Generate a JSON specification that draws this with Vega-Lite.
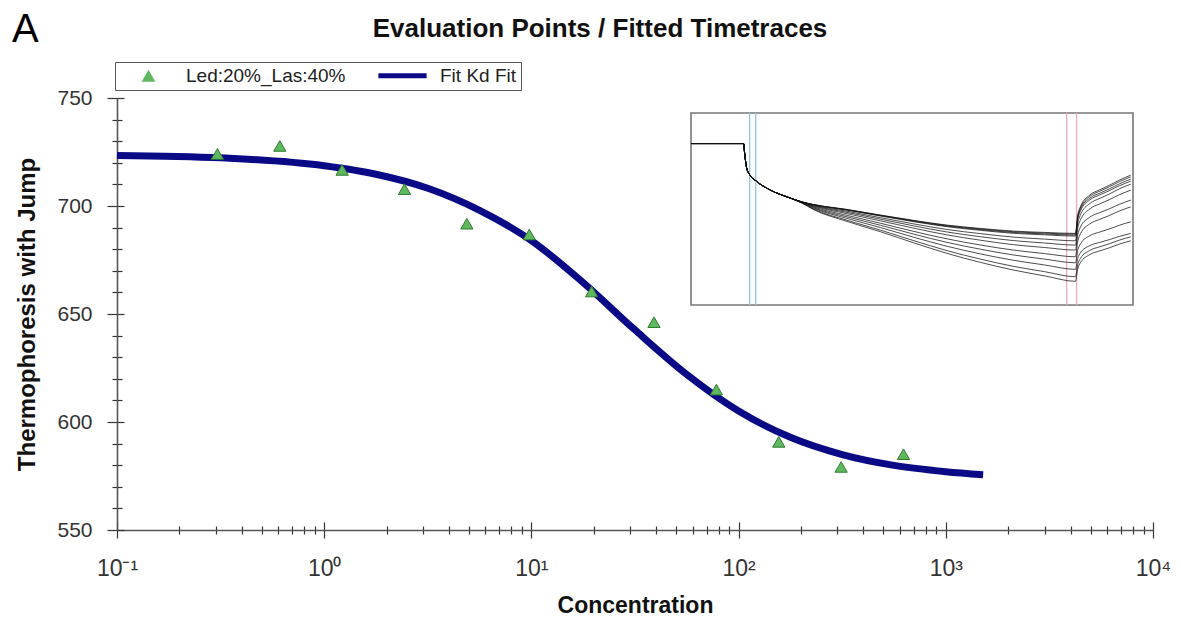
{
  "$schema": "https://vega.github.io/schema/vega-lite/v6.json",
  "width": 1036,
  "height": 432,
  "autosize": "none",
  "padding": {"left": 117, "top": 98, "right": 28, "bottom": 94},
  "background": "white",
  "title": {
    "text": "Evaluation Points / Fitted Timetraces",
    "font": "Liberation Sans",
    "fontSize": 26,
    "fontWeight": "bold",
    "color": "#111111",
    "anchor": "middle",
    "dx": -35,
    "offset": -32
  },
  "config": {
    "view": {"stroke": null},
    "font": "Liberation Sans",
    "axis": {
      "grid": false,
      "labelFont": "Liberation Sans",
      "labelFontSize": 21,
      "labelColor": "#333333",
      "labelFlush": false,
      "tickColor": "#333333",
      "tickWidth": 1.2,
      "domainColor": "#555555",
      "domainWidth": 1.6,
      "titleFont": "Liberation Sans",
      "titleFontSize": 23,
      "titleFontWeight": "bold",
      "titleColor": "#111111"
    },
    "legend": {
      "labelFont": "Liberation Sans",
      "labelFontSize": 19,
      "labelColor": "#222222",
      "labelLimit": 400
    }
  },
  "layer": [
    {
      "layer": [
        {
          "data": {
            "values": [
              {"conc": 0.1, "fit": 723.4},
              {"conc": 0.316, "fit": 722.3},
              {"conc": 1, "fit": 718.6},
              {"conc": 1.778, "fit": 714.7},
              {"conc": 3.162, "fit": 708.2},
              {"conc": 5.623, "fit": 698.0},
              {"conc": 10, "fit": 684.0},
              {"conc": 17.78, "fit": 664.5},
              {"conc": 31.62, "fit": 642.6},
              {"conc": 56.23, "fit": 622.0},
              {"conc": 100, "fit": 605.1},
              {"conc": 177.8, "fit": 592.9},
              {"conc": 316.2, "fit": 584.9},
              {"conc": 562.3, "fit": 579.9},
              {"conc": 1000, "fit": 577.0},
              {"conc": 1514, "fit": 575.6}
            ]
          },
          "mark": {"type": "line", "color": "#0a0a87", "strokeWidth": 7, "interpolate": "monotone"},
          "encoding": {
            "x": {
              "field": "conc", "type": "quantitative",
              "scale": {"type": "log", "domain": [0.1, 10000], "nice": false},
              "axis": {
                "orient": "bottom",
                "values": [0.1, 1, 10, 100, 1000, 10000],
                "offset": -8,
                "tickSize": 16,
                "domain": false,
                "labelPadding": 19,
                "labelFontSize": 23,
                "labelExpr": "datum.value < 0.5 ? '10⁻¹' : datum.value < 5 ? '10⁰' : datum.value < 50 ? '10¹' : datum.value < 500 ? '10²' : datum.value < 5000 ? '10³' : '10⁴'",
                "title": "Concentration",
                "titlePadding": 14
              }
            },
            "y": {
              "field": "fit", "type": "quantitative",
              "scale": {"domain": [550, 750], "zero": false, "nice": false},
              "axis": {
                "orient": "left",
                "values": [550, 600, 650, 700, 750],
                "offset": -7,
                "tickSize": 17,
                "domain": false,
                "labelPadding": 15,
                "title": "Thermophoresis with Jump",
                "titleFontSize": 24,
                "titlePadding": 17
              }
            }
          }
        },
        {
          "data": {
            "values": [
              {"conc": 0.30517578125, "value": 724.1, "series": "Led:20%_Las:40%"},
              {"conc": 0.6103515625, "value": 727.8, "series": "Led:20%_Las:40%"},
              {"conc": 1.220703125, "value": 716.7, "series": "Led:20%_Las:40%"},
              {"conc": 2.44140625, "value": 707.8, "series": "Led:20%_Las:40%"},
              {"conc": 4.8828125, "value": 691.8, "series": "Led:20%_Las:40%"},
              {"conc": 9.765625, "value": 686.8, "series": "Led:20%_Las:40%"},
              {"conc": 19.53125, "value": 660.4, "series": "Led:20%_Las:40%"},
              {"conc": 39.0625, "value": 646.2, "series": "Led:20%_Las:40%"},
              {"conc": 78.125, "value": 615.0, "series": "Led:20%_Las:40%"},
              {"conc": 156.25, "value": 590.8, "series": "Led:20%_Las:40%"},
              {"conc": 312.5, "value": 579.2, "series": "Led:20%_Las:40%"},
              {"conc": 625, "value": 585.1, "series": "Led:20%_Las:40%"}
            ]
          },
          "mark": {"type": "point", "filled": true, "size": 150, "stroke": "#2f7d2f", "strokeWidth": 1, "opacity": 1},
          "encoding": {
            "x": {
              "field": "conc", "type": "quantitative",
              "axis": {
                "orient": "bottom",
                "values": [0.2,0.3,0.4,0.5,0.6,0.7,0.8,0.9,2,3,4,5,6,7,8,9,20,30,40,50,60,70,80,90,200,300,400,500,600,700,800,900,2000,3000,4000,5000,6000,7000,8000,9000],
                "offset": -4,
                "tickSize": 8,
                "domain": false,
                "labels": false,
                "title": null
              }
            },
            "y": {
              "field": "value", "type": "quantitative",
              "axis": {
                "orient": "left",
                "values": [560,570,580,590,610,620,630,640,660,670,680,690,710,720,730,740],
                "offset": -5,
                "tickSize": 10,
                "domain": false,
                "labels": false,
                "title": null
              }
            },
            "color": {
              "field": "series", "type": "nominal",
              "scale": {"domain": ["Led:20%_Las:40%", "Fit Kd Fit"], "range": ["#5fb85f", "#0a0a87"]},
              "legend": {
                "title": null,
                "orient": "none",
                "legendX": -2,
                "legendY": -36,
                "direction": "horizontal",
                "strokeColor": "#555555",
                "fillColor": "white",
                "padding": 4,
                "symbolSize": 190,
                "symbolOffset": 20,
                "symbolStrokeWidth": 0,
                "labelOffset": 28,
                "columnPadding": 27
              }
            },
            "shape": {
              "field": "series", "type": "nominal",
              "scale": {"domain": ["Led:20%_Las:40%", "Fit Kd Fit"], "range": ["triangle-up", "M-3.5,-0.36H3.5V0.36H-3.5Z"]},
              "legend": {
                "title": null,
                "orient": "none",
                "legendX": -2,
                "legendY": -36,
                "direction": "horizontal",
                "strokeColor": "#555555",
                "fillColor": "white",
                "padding": 4,
                "symbolSize": 190,
                "symbolOffset": 20,
                "symbolStrokeWidth": 0,
                "labelOffset": 28,
                "columnPadding": 27
              }
            }
          }
        },
        {
          "data": {"values": [{"label": "A", "conc": 0.0311, "value": 775.9}]},
          "mark": {"type": "text", "fontSize": 40, "font": "Liberation Sans", "align": "left", "baseline": "alphabetic", "color": "#000000"},
          "encoding": {
            "text": {"field": "label"},
            "x": {
              "field": "conc", "type": "quantitative",
              "axis": {"orient": "bottom", "domain": true, "ticks": false, "labels": false, "title": null}
            },
            "y": {
              "field": "value", "type": "quantitative",
              "axis": {"orient": "left", "domain": true, "ticks": false, "labels": false, "title": null}
            }
          }
        }
      ],
      "resolve": {"axis": {"x": "independent", "y": "independent"}}
    },
    {
      "layer": [
        {
          "data": {"values": [{"t0": -4.75, "t1": 35.2, "f0": 838.3, "f1": 1030.6}]},
          "mark": {"type": "rect", "fill": "white", "stroke": "#777777", "strokeWidth": 1.6},
          "encoding": {
            "x": {"field": "t0", "type": "quantitative", "scale": {"domain": [-4.75, 35.2], "range": [574, 1016], "nice": false, "zero": false}, "axis": null},
            "x2": {"field": "t1"},
            "y": {"field": "f0", "type": "quantitative", "scale": {"domain": [838.3, 1030.6], "range": [207, 15], "nice": false, "zero": false}, "axis": null},
            "y2": {"field": "f1"}
          }
        },
        {
          "data": {"values": [{"t": 0.55, "f0": 838.3, "f1": 1030.6}, {"t": 1.1, "f0": 838.3, "f1": 1030.6}]},
          "mark": {"type": "rule", "color": "#8cc6de", "strokeWidth": 1.3},
          "encoding": {
            "x": {"field": "t", "type": "quantitative", "axis": null},
            "y": {"field": "f0", "type": "quantitative", "axis": null},
            "y2": {"field": "f1"}
          }
        },
        {
          "data": {"values": [{"t": 29.2, "f0": 838.3, "f1": 1030.6}, {"t": 30.1, "f0": 838.3, "f1": 1030.6}]},
          "mark": {"type": "rule", "color": "#f2a9b5", "strokeWidth": 1.3},
          "encoding": {
            "x": {"field": "t", "type": "quantitative", "axis": null},
            "y": {"field": "f0", "type": "quantitative", "axis": null},
            "y2": {"field": "f1"}
          }
        },
        {
          "data": {
            "values": [
              {"t": -4.7, "a": 1000, "b": 1000, "c": 1000, "d": 1000, "e": 1000, "f": 1000, "g": 1000, "h": 1000, "i": 1000, "j": 1000, "k": 1000, "l": 1000},
              {"t": 0, "a": 1000, "b": 1000, "c": 1000, "d": 1000, "e": 1000, "f": 1000, "g": 1000, "h": 1000, "i": 1000, "j": 1000, "k": 1000, "l": 1000},
              {"t": 0.1, "a": 990, "b": 990, "c": 990, "d": 990, "e": 990, "f": 990, "g": 990, "h": 990, "i": 990, "j": 990, "k": 990, "l": 990},
              {"t": 0.27, "a": 976, "b": 976, "c": 976, "d": 976, "e": 976, "f": 976, "g": 976, "h": 976, "i": 976, "j": 976, "k": 976, "l": 976},
              {"t": 0.54, "a": 969, "b": 969, "c": 969, "d": 969, "e": 969, "f": 969, "g": 969, "h": 969, "i": 969, "j": 969, "k": 969, "l": 969},
              {"t": 1.08, "a": 963, "b": 963, "c": 963, "d": 963, "e": 963, "f": 963, "g": 963, "h": 963, "i": 963, "j": 963, "k": 963, "l": 963},
              {"t": 2.5, "a": 953, "b": 953, "c": 953, "d": 953, "e": 953, "f": 953, "g": 953, "h": 953, "i": 953, "j": 953, "k": 953, "l": 953},
              {"t": 4.07, "a": 946, "b": 946, "c": 946, "d": 946, "e": 946, "f": 946, "g": 946, "h": 946, "i": 946, "j": 946, "k": 946, "l": 946},
              {"t": 5.3, "a": 941.5, "b": 941.5, "c": 941.5, "d": 941.5, "e": 941.4, "f": 941.3, "g": 941.2, "h": 941, "i": 940.8, "j": 940.6, "k": 940.4, "l": 940.2},
              {"t": 6.3, "a": 939, "b": 938.9, "c": 938.8, "d": 938.7, "e": 938.2, "f": 937.8, "g": 937.3, "h": 936.6, "i": 935.9, "j": 935.3, "k": 934.5, "l": 934},
              {"t": 9.35, "a": 934, "b": 933.8, "c": 933.6, "d": 933.3, "e": 932.2, "f": 931.1, "g": 929.8, "h": 928.1, "i": 926.6, "j": 925, "k": 923.2, "l": 922},
              {"t": 12.4, "a": 928.3, "b": 928.1, "c": 927.7, "d": 927.4, "e": 925.7, "f": 924.2, "g": 922.5, "h": 920.1, "i": 918.1, "j": 915.8, "k": 913.2, "l": 911.6},
              {"t": 15.4, "a": 923, "b": 922.7, "c": 922.2, "d": 921.7, "e": 919.5, "f": 917.5, "g": 915.2, "h": 912, "i": 909.2, "j": 906.1, "k": 902.7, "l": 900.5},
              {"t": 18.4, "a": 918.3, "b": 917.9, "c": 917.3, "d": 916.7, "e": 913.9, "f": 911.4, "g": 908.5, "h": 904.5, "i": 901, "j": 897.1, "k": 892.7, "l": 890},
              {"t": 21.4, "a": 915, "b": 914.5, "c": 913.8, "d": 913.1, "e": 909.8, "f": 906.7, "g": 903.2, "h": 898.4, "i": 894.2, "j": 889.5, "k": 884.3, "l": 881},
              {"t": 24.4, "a": 912.3, "b": 911.7, "c": 910.9, "d": 910.1, "e": 906.3, "f": 902.8, "g": 898.7, "h": 893.3, "i": 888.4, "j": 883.1, "k": 877, "l": 873.3},
              {"t": 27.2, "a": 911, "b": 910.3, "c": 909.5, "d": 908.6, "e": 904.3, "f": 900.4, "g": 895.9, "h": 889.8, "i": 884.3, "j": 878.4, "k": 871.7, "l": 867.5},
              {"t": 30, "a": 910, "b": 909.3, "c": 908.3, "d": 907.3, "e": 902.6, "f": 898.3, "g": 893.3, "h": 886.6, "i": 880.6, "j": 874, "k": 866.6, "l": 862},
              {"t": 30.2, "a": 927.5, "b": 926.5, "c": 925.1, "d": 923.8, "e": 919.6, "f": 914.8, "g": 908.3, "h": 901.6, "i": 892.9, "j": 884.8, "k": 878.6, "l": 874.2},
              {"t": 30.45, "a": 936.8, "b": 935.7, "c": 934.1, "d": 932.6, "e": 928.7, "f": 923.6, "g": 916.3, "h": 909.6, "i": 899.5, "j": 890.6, "k": 885, "l": 880.7},
              {"t": 31.3, "a": 948.5, "b": 947.1, "c": 945.3, "d": 943.6, "e": 940, "f": 934.6, "g": 926.3, "h": 919.6, "i": 907.7, "j": 897.8, "k": 893, "l": 888.8},
              {"t": 32.2, "a": 953.7, "b": 952.3, "c": 950.3, "d": 948.6, "e": 945.1, "f": 939.6, "g": 930.8, "h": 924.1, "i": 911.4, "j": 901, "k": 896.6, "l": 892.5},
              {"t": 33.1, "a": 958.4, "b": 956.9, "c": 954.8, "d": 953, "e": 949.7, "f": 944, "g": 934.8, "h": 928.1, "i": 914.6, "j": 903.9, "k": 899.8, "l": 895.7},
              {"t": 34, "a": 963.6, "b": 962, "c": 959.8, "d": 957.9, "e": 954.8, "f": 948.9, "g": 939.3, "h": 932.6, "i": 918.3, "j": 907.1, "k": 903.4, "l": 899.4},
              {"t": 35, "a": 968.3, "b": 966.6, "c": 964.3, "d": 962.3, "e": 959.3, "f": 953.3, "g": 943.3, "h": 936.6, "i": 921.6, "j": 910, "k": 906.6, "l": 902.6}
            ]
          },
          "transform": [{"fold": ["a", "b", "c", "d", "e", "f", "g", "h", "i", "j", "k", "l"], "as": ["trace", "f"]}],
          "mark": {"type": "line", "color": "#111111", "strokeWidth": 1, "opacity": 0.75, "interpolate": "monotone"},
          "encoding": {
            "x": {"field": "t", "type": "quantitative", "axis": null},
            "y": {"field": "f", "type": "quantitative", "axis": null},
            "detail": {"field": "trace", "type": "nominal"}
          }
        }
      ]
    }
  ],
  "resolve": {"scale": {"x": "independent", "y": "independent"}, "axis": {"x": "independent", "y": "independent"}}
}
